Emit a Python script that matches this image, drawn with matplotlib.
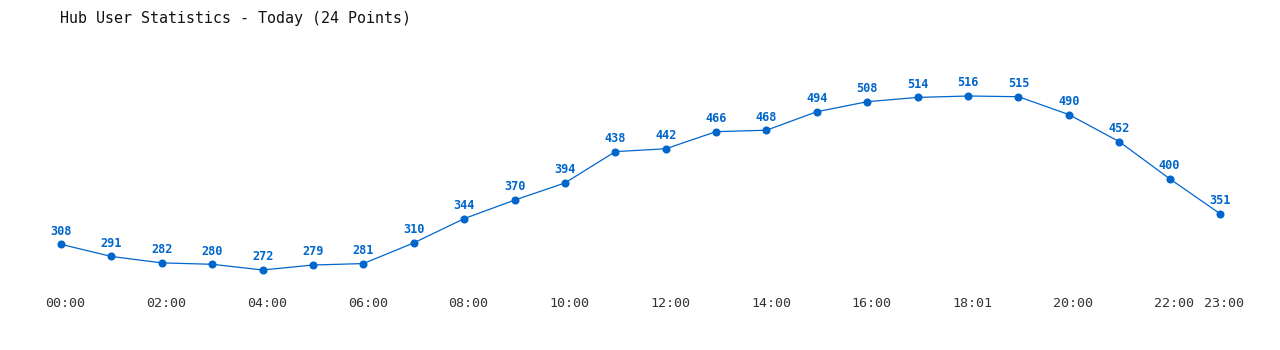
import numpy as np
import matplotlib.pyplot as plt

plt.rcParams['font.family'] = 'DejaVu Sans Mono'
plt.rcParams['figure.facecolor'] = 'white'

title = "Hub User Statistics - Today (24 Points)"
hours = np.arange(24)
users = [308, 291, 282, 280, 272, 279, 281, 310, 344, 370, 394, 438,
         442, 466, 468, 494, 508, 514, 516, 515, 490, 452, 400, 351]
tick_pos = [0, 2, 4, 6, 8, 10, 12, 14, 16, 18, 20, 22, 23]
tick_labels = ["00:00", "02:00", "04:00", "06:00", "08:00", "10:00", "12:00",
               "14:00", "16:00", "18:01", "20:00", "22:00", "23:00"]

blue = '#0066cc'
W, H = 1280, 350
fig = plt.figure(figsize=(W / 100, H / 100), dpi=100)
# axes placed so that points land where the reference has them
ax = fig.add_axes([61 / W, 1 - 270 / H, (1220 - 61) / W, (270 - 96) / H])
ax.set_xlim(0, 23)
ax.set_ylim(min(users), max(users))
ax.axis('off')

ax.plot(hours, users, color=blue, lw=0.9, marker='o', ms=4.8, clip_on=False)
for x, y in zip(hours, users):
    ax.annotate(str(y), (x, y), xytext=(0, 9.5), textcoords='offset points',
                ha='center', va='center', fontsize=8.6, fontweight='bold',
                color=blue)

for x, lab in zip(tick_pos, tick_labels):
    ax.annotate(lab, (x, min(users)), xytext=(3.2, -24), textcoords='offset points',
                ha='center', va='center', fontsize=9.6, color='#333333',
                annotation_clip=False)

fig.text(60 / W, 1 - 18 / H, title, ha='left', va='center', fontsize=10.8,
         color='#111111')

fig.savefig('out.png', dpi=100)
